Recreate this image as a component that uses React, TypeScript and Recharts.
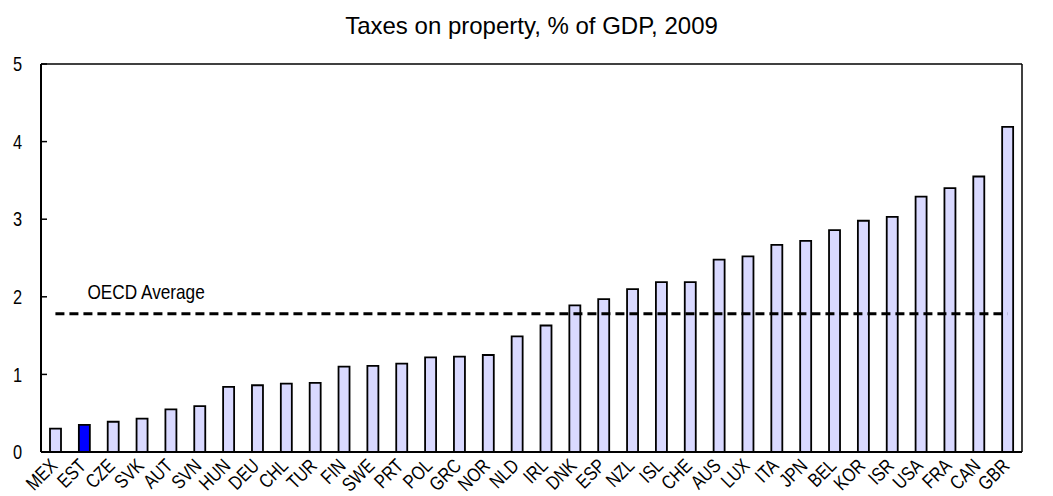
import { ComposedChart, Bar, Line, XAxis, YAxis, Cell, ReferenceLine } from 'recharts';

const countries = [
    'MEX', 'EST', 'CZE', 'SVK', 'AUT', 'SVN', 'HUN', 'DEU', 'CHL', 'TUR', 'FIN', 'SWE',
    'PRT', 'POL', 'GRC', 'NOR', 'NLD', 'IRL', 'DNK', 'ESP', 'NZL', 'ISL', 'CHE', 'AUS',
    'LUX', 'ITA', 'JPN', 'BEL', 'KOR', 'ISR', 'USA', 'FRA', 'CAN', 'GBR',
];

const propertyTax = [
    0.30, 0.35, 0.39, 0.43, 0.55, 0.59, 0.84, 0.86, 0.88, 0.89, 1.10, 1.11,
    1.14, 1.22, 1.23, 1.25, 1.49, 1.63, 1.89, 1.97, 2.10, 2.19, 2.19, 2.48,
    2.52, 2.67, 2.72, 2.86, 2.98, 3.03, 3.29, 3.40, 3.55, 4.19,
];

const oecdAverage = 1.78;
const yTicks = [0, 1, 2, 3, 4, 5];
const highlighted = 'EST';

// no Arial Narrow here, so squeeze Liberation Sans to the same width
const SANS = '"Liberation Sans", Arial, sans-serif';
const NARROW = 0.82;

const data = countries.map((c, i) => ({ country: c, value: propertyTax[i], avg: oecdAverage }));

function CountryTick({ x, y, payload }: any) {
    const ax = x + 3;
    const ay = y + 15;
    return (
        <text
            transform={`translate(${ax}, ${ay}) rotate(-45) scale(${NARROW}, 1)`}
            textAnchor="end"
            fontFamily={SANS}
            fontSize={19.5}
            fill="#000"
        >
            {payload.value}
        </text>
    );
}

function ValueTick({ x, y, payload, textAnchor }: any) {
    return (
        <text
            transform={`translate(${x}, ${y}) scale(${NARROW}, 1)`}
            textAnchor={textAnchor}
            dy="0.36em"
            fontFamily={SANS}
            fontSize={20}
            fill="#000"
        >
            {payload.value}
        </text>
    );
}

function AvgLabel({ x, y, index }: any) {
    if (index !== 0) return null;
    return (
        <text
            transform={`translate(${x + 32}, ${y - 15}) scale(${NARROW}, 1)`}
            fontFamily={SANS}
            fontSize={21}
            fill="#000"
        >
            OECD Average
        </text>
    );
}

export default function App() {
    return (
        <div style={{ position: 'absolute', left: 0, top: 0, width: 1053, height: 496, background: '#fff' }}>
            <div
                style={{
                    position: 'absolute',
                    left: 0,
                    top: 13.5,
                    width: 1063,
                    textAlign: 'center',
                    fontFamily: SANS,
                    fontSize: 24,
                    lineHeight: '24px',
                }}
            >
                Taxes on property, % of GDP, 2009
            </div>
            <ComposedChart
                width={1053}
                height={496}
                data={data}
                margin={{ top: 64, right: 0, left: 0, bottom: 0 }}
                barCategoryGap={0}
            >
                <XAxis
                    dataKey="country"
                    interval={0}
                    height={44}
                    tickLine={false}
                    tickSize={0}
                    tickMargin={0}
                    axisLine={{ stroke: '#000', strokeWidth: 2 }}
                    tick={<CountryTick />}
                />
                <YAxis
                    yAxisId="left"
                    orientation="left"
                    width={41}
                    domain={[0, 5]}
                    ticks={yTicks}
                    interval={0}
                    tickSize={-6}
                    tickMargin={25}
                    tickLine={{ stroke: '#000', strokeWidth: 1.5 }}
                    axisLine={{ stroke: '#000', strokeWidth: 2 }}
                    tick={<ValueTick />}
                />
                <YAxis
                    yAxisId="right"
                    orientation="right"
                    width={31}
                    domain={[0, 5]}
                    ticks={yTicks}
                    interval={0}
                    tickSize={-6}
                    tickMargin={29}
                    tickLine={{ stroke: '#000', strokeWidth: 1.5 }}
                    axisLine={{ stroke: '#000', strokeWidth: 1.5 }}
                    tick={<ValueTick />}
                />
                <ReferenceLine yAxisId="left" y={5} stroke="#000" strokeWidth={1.5} />
                <Bar
                    yAxisId="left"
                    dataKey="value"
                    barSize={11}
                    stroke="#000"
                    strokeWidth={1.8}
                    isAnimationActive={false}
                >
                    {data.map((d) => (
                        <Cell key={d.country} fill={d.country === highlighted ? '#0000ff' : '#d9d9ff'} />
                    ))}
                </Bar>
                <Line
                    yAxisId="left"
                    dataKey="avg"
                    stroke="#000"
                    strokeWidth={3}
                    strokeDasharray="9 5"
                    dot={false}
                    activeDot={false}
                    label={<AvgLabel />}
                    isAnimationActive={false}
                />
            </ComposedChart>
        </div>
    );
}
